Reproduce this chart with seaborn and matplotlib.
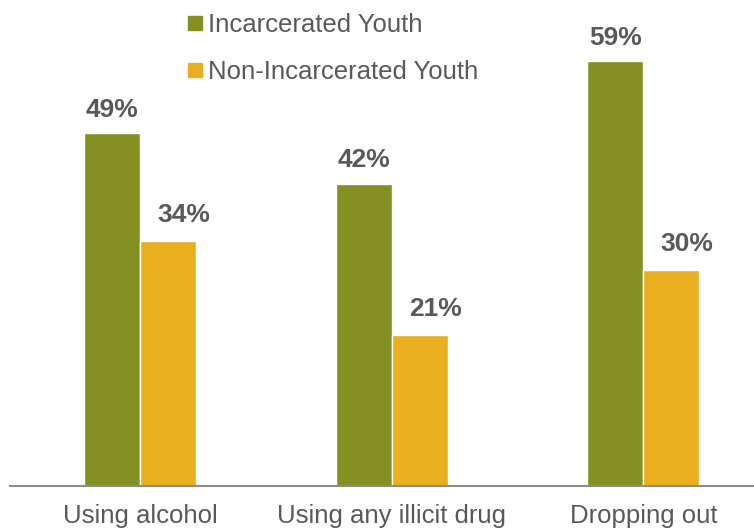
import numpy as np
import pandas as pd
import seaborn as sb
import matplotlib.pyplot as plt
from matplotlib.lines import Line2D

categories = ['Using alcohol', 'Using any illicit drug', 'Dropping out']
groups = ['Incarcerated Youth', 'Non-Incarcerated Youth']
incarcerated = [49, 42, 59]
non_incarcerated = [34, 21, 30]

green = '#849122'
yellow = '#E9AF1F'
gray_txt = '#595959'

df = pd.DataFrame({
    'category': categories * 2,
    'group': [groups[0]] * 3 + [groups[1]] * 3,
    'value': incarcerated + non_incarcerated,
})

sb.set_style('white')
plt.rcParams['font.family'] = ['Liberation Sans', 'DejaVu Sans']

fig = plt.figure(figsize=(7.54, 5.31), dpi=100)
ax = fig.add_axes([10 / 754, 45 / 531, 744 / 754, 486 / 531])

sb.barplot(data=df, x='category', y='value', hue='group', hue_order=groups,
           palette=[green, yellow], width=0.445, gap=0, saturation=1,
           legend=False, ax=ax)

# green labels sit centred, yellow ones are nudged right in the original
for cont, dx, pad in zip(ax.containers, [0, 11.5], [8, 10]):
    anns = ax.bar_label(cont, fmt='%d%%', padding=pad, fontsize=19,
                        fontweight='bold', color=gray_txt)
    for a in anns:
        a.xyann = (dx, pad)

ax.set_xlim(-0.517, 2.44)
ax.set_ylim(0, 67.5)
ax.set_xlabel('')
ax.set_ylabel('')
ax.set_yticks([])
ax.tick_params(axis='x', length=0, labelsize=18.5, labelcolor=gray_txt, pad=13)

for s in ['top', 'right', 'left']:
    ax.spines[s].set_visible(False)
ax.spines['bottom'].set_color('#8c8c8c')
ax.spines['bottom'].set_linewidth(1.5)

handles = [Line2D([], [], marker='s', linestyle='', color=c, markersize=10)
           for c in [green, yellow]]
ax.legend(handles, groups, loc='upper left', bbox_to_anchor=(182 / 754, 1 - 8 / 531),
          bbox_transform=fig.transFigure, frameon=False, fontsize=18.5,
          labelcolor=gray_txt, handlelength=0.6, handletextpad=0.2,
          labelspacing=0.9, borderaxespad=0, borderpad=0.2)

fig.savefig('out.png', dpi=100)
